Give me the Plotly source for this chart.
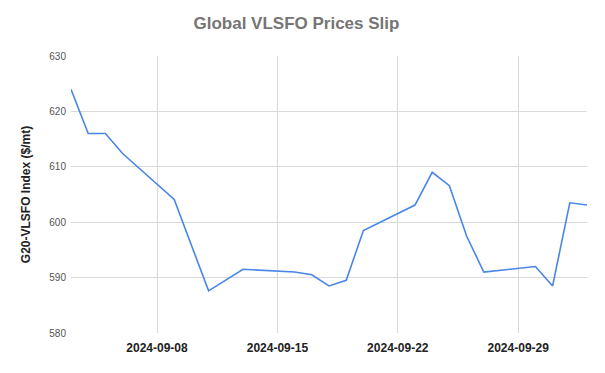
import plotly.graph_objects as go

dates = ["2024-09-03", "2024-09-04", "2024-09-05", "2024-09-06", "2024-09-09",
         "2024-09-11", "2024-09-13", "2024-09-16", "2024-09-17", "2024-09-18",
         "2024-09-19", "2024-09-20", "2024-09-23", "2024-09-24", "2024-09-25",
         "2024-09-26", "2024-09-27", "2024-09-30", "2024-10-01", "2024-10-02",
         "2024-10-03"]
values = [624.0, 616.0, 616.0, 612.4, 604.1,
          587.6, 591.5, 591.0, 590.5, 588.5,
          589.5, 598.5, 603.1, 609.0, 606.6,
          597.5, 591.0, 592.0, 588.5, 603.5,
          603.1]
x_ticks = ["2024-09-08", "2024-09-15", "2024-09-22", "2024-09-29"]
y_ticks = [580, 590, 600, 610, 620, 630]

fig = go.Figure()
fig.add_trace(go.Scatter(x=dates, y=values, mode="lines",
                         line=dict(color="#4a86e8", width=1.6), showlegend=False))

fig.update_layout(
    width=605, height=373,
    margin=dict(l=71, r=18, t=56, b=40, autoexpand=False),
    paper_bgcolor="white", plot_bgcolor="white",
    title=dict(text="<b>Global VLSFO Prices Slip</b>", x=0.49, xanchor="center",
               xref="container", y=1 - 23 / 373, yanchor="middle", yref="container",
               font=dict(family="Liberation Sans, Arial", size=17, color="#757575")),
    font=dict(family="Liberation Sans, Arial"),
)
fig.update_xaxes(
    type="date", range=["2024-09-03", "2024-10-03"], automargin=False,
    tickvals=x_ticks, ticktext=["<b>%s</b>" % t for t in x_ticks],
    showgrid=True, gridcolor="#d9d9d9", gridwidth=1,
    showline=False, zeroline=False, ticks="", ticklabelstandoff=6,
    tickfont=dict(size=12, color="#222222"),
)
fig.update_yaxes(
    range=[580, 630], tickvals=y_ticks, automargin=False,
    showgrid=True, gridcolor="#d9d9d9", gridwidth=1,
    showline=False, zeroline=False, ticks="", ticklabelstandoff=4,
    tickfont=dict(size=10, color="#555555"),
    title=dict(text="<b>G20-VLSFO Index ($/mt)</b>", standoff=16,
               font=dict(size=12, color="#222222")),
)
fig.write_html("out.html", config={"displayModeBar": False},
               post_script="document.body.style.margin='0';")
